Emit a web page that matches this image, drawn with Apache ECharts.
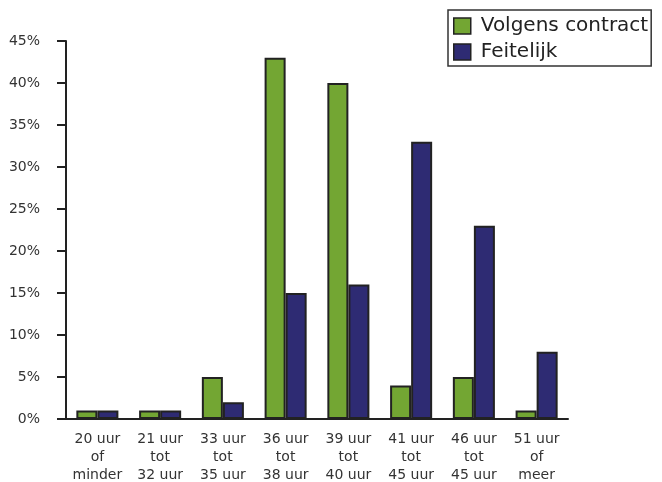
<!DOCTYPE html>
<html>
<head>
<meta charset="utf-8">
<script src="https://cdn.jsdelivr.net/npm/echarts@6/dist/echarts.min.js"></script>
<style>
  html, body { margin: 0; padding: 0; background: #fff; }
  #chart { width: 662px; height: 482px; }
</style>
</head>
<body>
<div id="chart"></div>
<script>
// Working-hour bands (three-line axis labels)
const categories = [
  '20 uur\nof\nminder',
  '21 uur\ntot\n32 uur',
  '33 uur\ntot\n35 uur',
  '36 uur\ntot\n38 uur',
  '39 uur\ntot\n40 uur',
  '41 uur\ntot\n45 uur',
  '46 uur\ntot\n45 uur',
  '51 uur\nof\nmeer'
];
const seriesNames = ['Volgens contract', 'Feitelijk'];
// Share of employees per band, in percent
const contractValues = [1, 1, 5, 43, 40, 4, 5, 1];
const actualValues = [1, 1, 2, 15, 16, 33, 23, 8];
const yMax = 45;
const yStep = 5;

const FONT = 'DejaVu Sans';
const INK = '#222';

const chart = echarts.init(document.getElementById('chart'), null, { renderer: 'canvas' });

const barStyle = (color) => ({ color: color, borderColor: INK, borderWidth: 2 });

chart.setOption({
  animation: false,
  textStyle: { fontFamily: FONT },
  grid: {
    left: 66, right: 94, top: 41, bottom: 63,
    containLabel: false,
    outerBoundsMode: 'none'
  },
  legend: {
    left: 448,
    top: 10,
    orient: 'vertical',
    icon: 'rect',
    itemWidth: 17,
    itemHeight: 16,
    itemGap: 2,
    padding: [4, 3, 2, 5],
    borderColor: '#333',
    borderWidth: 1.5,
    itemStyle: { borderColor: INK, borderWidth: 1.5 },
    textStyle: { fontFamily: FONT, fontSize: 20, color: '#222', lineHeight: 24, padding: [0, 0, 0, 5] },
    data: seriesNames
  },
  xAxis: {
    type: 'category',
    data: categories,
    axisLine: { lineStyle: { color: INK, width: 2 } },
    axisTick: { length: 7, lineStyle: { color: INK, width: 2 } },
    axisLabel: {
      interval: 0,
      margin: 11,
      color: '#333',
      fontFamily: FONT,
      fontSize: 14,
      lineHeight: 18,
      align: 'center'
    }
  },
  yAxis: {
    type: 'value',
    min: 0,
    max: yMax,
    interval: yStep,
    splitLine: { show: false },
    axisLine: { show: true, lineStyle: { color: INK, width: 2 } },
    axisTick: { show: true, length: 9, lineStyle: { color: INK, width: 2 } },
    axisLabel: {
      margin: 26,
      color: '#333',
      fontFamily: FONT,
      fontSize: 14,
      padding: [6, 0, 0, 0],
      formatter: (v) => v + '%'
    }
  },
  series: [
    {
      name: seriesNames[0],
      type: 'bar',
      data: contractValues,
      barWidth: '33.5%',
      barGap: '0%',
      itemStyle: barStyle('#73a633')
    },
    {
      name: seriesNames[1],
      type: 'bar',
      data: actualValues,
      barWidth: '33.5%',
      barGap: '0%',
      itemStyle: barStyle('#2e2b73')
    }
  ]
});
</script>
</body>
</html>
